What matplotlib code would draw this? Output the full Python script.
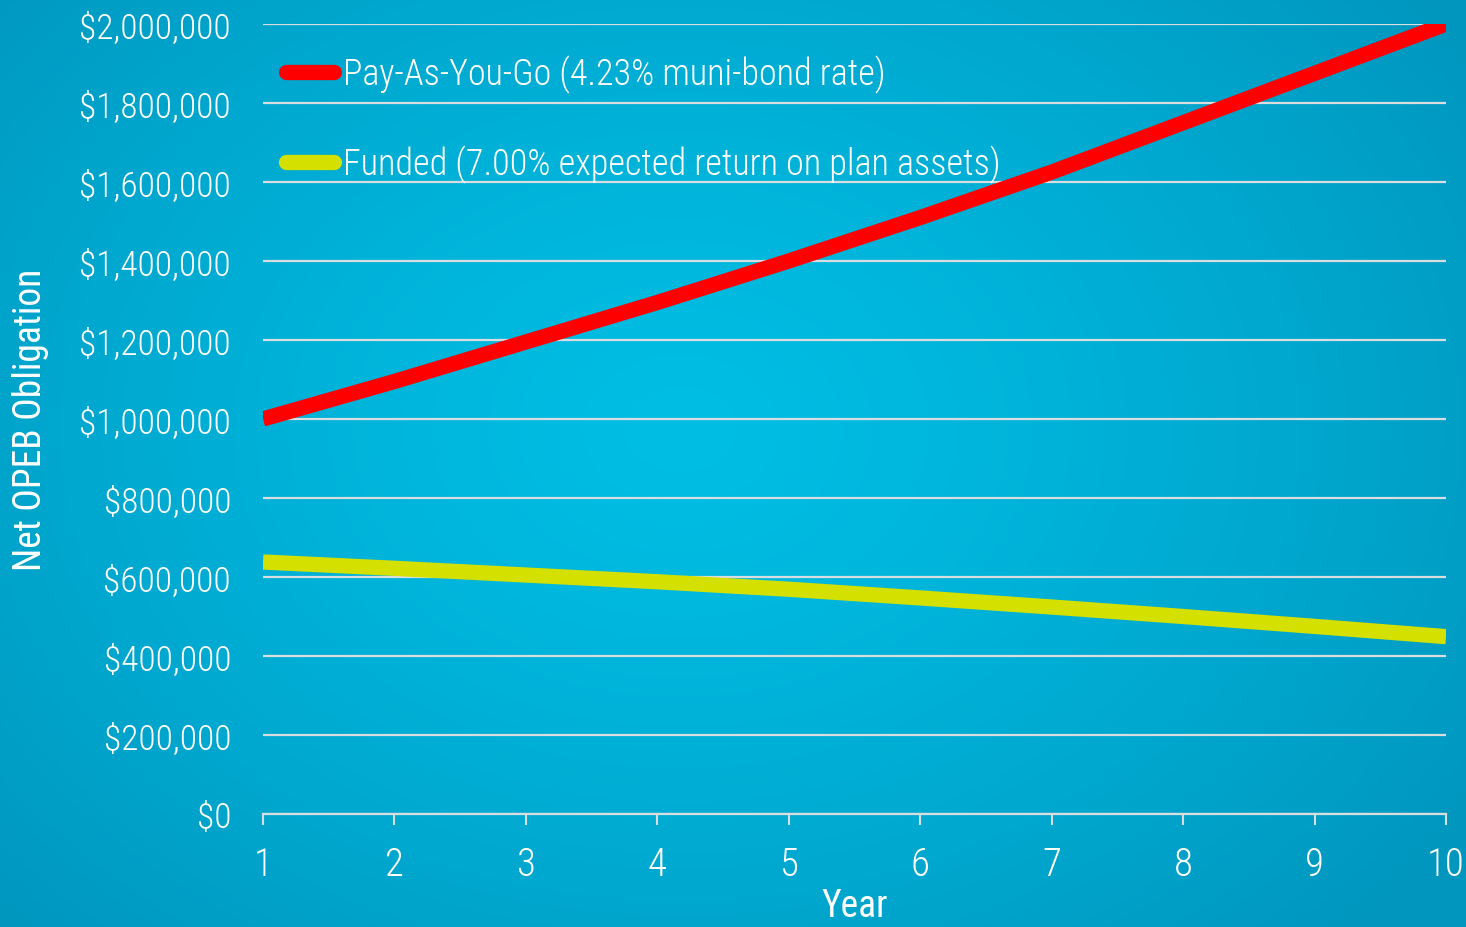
import numpy as np
import matplotlib
matplotlib.use('Agg')
import matplotlib.pyplot as plt
from matplotlib import font_manager
from matplotlib.lines import Line2D
from matplotlib.ticker import FuncFormatter

# Data
years = [1, 2, 3, 4, 5, 6, 7, 8, 9, 10]
pay_as_you_go = [1000000, 1095000, 1195000, 1295000, 1400000,
                 1510000, 1625000, 1750000, 1875000, 2000000]
funded = [638000, 622000, 605000, 588000, 569000,
          547000, 524000, 500000, 475000, 449000]
y_ticks = list(range(0, 2000001, 200000))
series_labels = ["Pay-As-You-Go (4.23% muni-bond rate)",
                 "Funded (7.00% expected return on plan assets)"]
series_colors = ["#ff0000", "#d4e000"]

# pick a condensed face if one is installed
installed = set(f.name for f in font_manager.fontManager.ttflist)
FONT = 'DejaVu Sans'
for cand in ['Roboto Condensed', 'Barlow Condensed', 'Sofia Sans Condensed', 'Liberation Sans Narrow']:
    if cand in installed:
        FONT = cand
        break
plt.rcParams['font.family'] = [FONT, 'DejaVu Sans']
LIGHT = 300

W, H = 1466, 928
fig = plt.figure(figsize=(W / 100, H / 100), dpi=100)

# radial blue background
bg = fig.add_axes([0, 0, 1, 1], zorder=0)
yy, xx = np.mgrid[0:H, 0:W]
r = np.sqrt(((xx - 680) / 950) ** 2 + ((yy - 430) / 720) ** 2)
r = np.clip(r, 0, 1) ** 1.3
c_mid = np.array([0, 190, 228]) / 255
c_edge = np.array([0, 150, 190]) / 255
img = c_mid + (c_edge - c_mid) * r[..., None]
bg.imshow(img, aspect='auto', interpolation='bilinear')
bg.axis('off')

# main axes
left, right, top, bottom = 263, 1446, 25, 815
ax = fig.add_axes([left / W, 1 - bottom / H, (right - left) / W, (bottom - top) / H], zorder=1)
ax.patch.set_alpha(0)

ax.plot(years, pay_as_you_go, color=series_colors[0], lw=11, solid_capstyle='butt', zorder=3)
ax.plot(years, funded, color=series_colors[1], lw=11, solid_capstyle='butt', zorder=3)

ax.set_xlim(1, 10)
ax.set_ylim(0, 2000000)
ax.set_xticks(years)
ax.set_yticks(y_ticks)
ax.yaxis.set_major_formatter(FuncFormatter(lambda v, p: "${:,.0f}".format(v)))

grid_col = '#d9dde0'
ax.grid(axis='y', color=grid_col, lw=1.6, zorder=1)
ax.set_axisbelow(True)
for s in ['top', 'right', 'left']:
    ax.spines[s].set_visible(False)
ax.spines['bottom'].set_color(grid_col)
ax.spines['bottom'].set_linewidth(1.6)

ax.tick_params(axis='y', length=0, pad=23, labelsize=25.5, labelcolor='white')
ax.tick_params(axis='x', length=8, width=1.5, color=grid_col, pad=15,
               labelsize=28, labelcolor='white')
for t in ax.get_xticklabels() + ax.get_yticklabels():
    t.set_fontweight(LIGHT)

ax.set_ylabel("Net OPEB Obligation", fontsize=27, color='white')
ax.yaxis.set_label_coords(-0.181, 0.5)
ax.set_xlabel("Year", fontsize=27, color='white')
ax.xaxis.set_label_coords(0.5, -0.093)

handles = [Line2D([], [], color=c, lw=11, solid_capstyle='round') for c in series_colors]
leg = ax.legend(handles, series_labels, loc='upper left',
                bbox_to_anchor=(286 / W, 1 - 56 / H), bbox_transform=fig.transFigure,
                frameon=False, prop={'size': 26, 'weight': LIGHT},
                handlelength=1.32, handletextpad=0.26,
                labelspacing=1.43, borderpad=0, borderaxespad=0)
for t in leg.get_texts():
    t.set_color('white')

fig.savefig('out.png', dpi=100)
